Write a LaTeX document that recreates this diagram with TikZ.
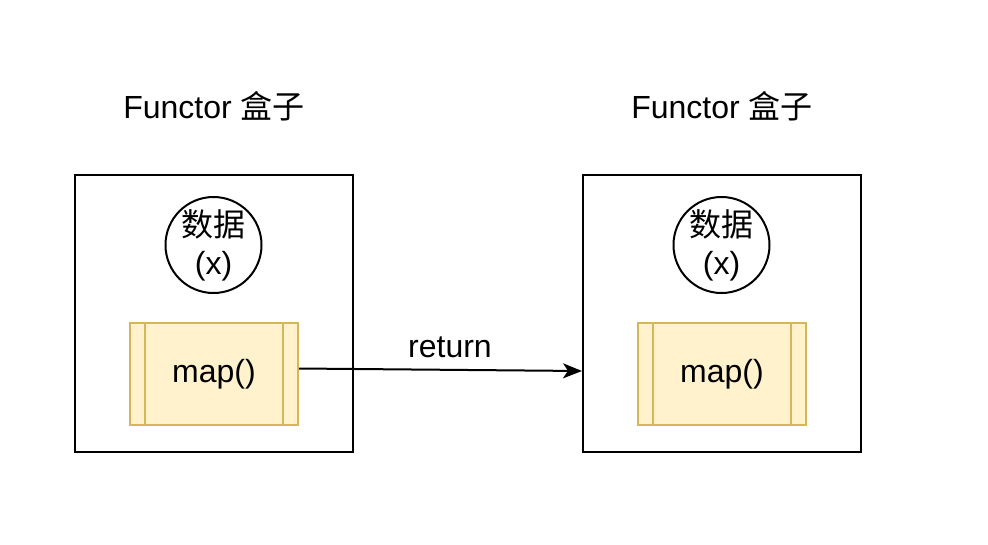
\documentclass[tikz,border=0pt]{standalone}
\usepackage{fontspec}
\setmainfont{Liberation Sans}
\newfontfamily\cjk{Noto Sans CJK SC}
\usetikzlibrary{arrows.meta}
\definecolor{mapfill}{HTML}{FFF2CC}
\definecolor{mapdraw}{HTML}{D6B656}
\begin{document}
\begin{tikzpicture}[x=1pt,y=-1pt,
  every node/.style={font=\fontsize{32}{38}\selectfont},
  outerbox/.style={draw=black,line width=2pt,minimum width=278pt,minimum height=277pt,inner sep=0pt},
  datacircle/.style={draw=black,line width=2pt,circle,minimum size=96pt,inner sep=0pt,align=center},
  mapbox/.style={draw=mapdraw,fill=mapfill,line width=2pt,minimum width=168pt,minimum height=102pt,inner sep=0pt},
  title/.style={inner sep=0pt},
  conn/.style={line width=2pt,-{Stealth[length=19pt,width=15pt,inset=5pt]}}]
\useasboundingbox (0,0) rectangle (988,544);
% left
\node[title] (t1) at (214,106) {Functor {\cjk 盒子}};
\node[outerbox] (b1) at (214,313.5) {};
\node[datacircle] (c1) at (213.5,245) {{\cjk 数据}\\(x)};
\node[mapbox] (m1) at (214,374) {map()};
\draw[mapdraw,line width=2pt] ([xshift=16pt]m1.north west) -- ([xshift=16pt]m1.south west);
\draw[mapdraw,line width=2pt] ([xshift=-16pt]m1.north east) -- ([xshift=-16pt]m1.south east);
% right
\node[title] (t2) at (722,106) {Functor {\cjk 盒子}};
\node[outerbox] (b2) at (722,313.5) {};
\node[datacircle] (c2) at (721.5,245) {{\cjk 数据}\\(x)};
\node[mapbox] (m2) at (722,374) {map()};
\draw[mapdraw,line width=2pt] ([xshift=16pt]m2.north west) -- ([xshift=16pt]m2.south west);
\draw[mapdraw,line width=2pt] ([xshift=-16pt]m2.north east) -- ([xshift=-16pt]m2.south east);
% arrow
\coordinate (s) at (m1.east |- 0,368.5);
\coordinate (e) at (b2.west |- 0,371);
\draw[conn] (s) -- (e);
\node[inner sep=0pt] (ret) at (450,347) {return};
\end{tikzpicture}
\end{document}
